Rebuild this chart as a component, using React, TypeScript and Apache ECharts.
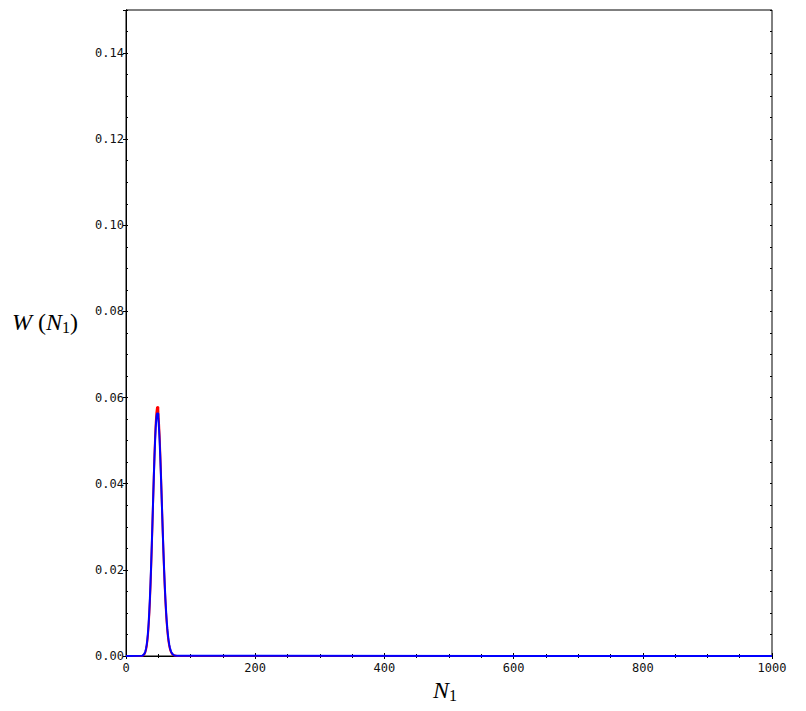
import React, { useEffect, useRef } from 'react';
import * as echarts from 'echarts';

const X_MIN = 0;
const X_MAX = 1000;
const X_INTERVAL = 200;
const Y_MIN = 0;
const Y_MAX = 0.15;
const Y_INTERVAL = 0.02;
const Y_MINOR = 0.005;

const N1 = [
  25, 26, 27, 28, 29, 30, 31, 32, 33, 34, 35, 36, 37, 38, 39, 40, 41, 42, 43, 44,
  45, 46, 47, 48, 49, 50, 51, 52, 53, 54, 55, 56, 57, 58, 59, 60, 61, 62, 63, 64,
  65, 66, 67, 68, 69, 70, 71, 72, 73, 74, 75, 76, 77, 78, 79, 80,
];

// red curve
const W_RED = [
  0.00002, 0.00005, 0.0001, 0.00019, 0.00033, 0.00056, 0.00092, 0.00146, 0.00226, 0.00339,
  0.00492, 0.00694, 0.00951, 0.01269, 0.01647, 0.02083, 0.02567, 0.03085, 0.03617, 0.0414,
  0.04629, 0.05058, 0.05404, 0.05647, 0.05774, 0.0578, 0.05667, 0.05443, 0.05124, 0.0473,
  0.04282, 0.03803, 0.03315, 0.02836, 0.02384, 0.01968, 0.01596, 0.01272, 0.00997, 0.00768,
  0.00582, 0.00434, 0.00318, 0.0023, 0.00163, 0.00114, 0.00079, 0.00054, 0.00036, 0.00024,
  0.00016, 0.0001, 0.00006, 0.00004, 0.00002, 0.00001,
];

// blue curve
const W_BLUE = [
  0.00004, 0.00008, 0.00014, 0.00025, 0.00042, 0.00068, 0.00109, 0.00171, 0.00259, 0.00381,
  0.00544, 0.00755, 0.0102, 0.01342, 0.0172, 0.0215, 0.02622, 0.03122, 0.0363, 0.04125,
  0.04583, 0.04981, 0.05299, 0.0552, 0.05633, 0.05633, 0.05523, 0.0531, 0.0501, 0.04639,
  0.04217, 0.03765, 0.03303, 0.02847, 0.02413, 0.02011, 0.01648, 0.01329, 0.01055, 0.00824,
  0.00634, 0.0048, 0.00358, 0.00263, 0.00191, 0.00136, 0.00096, 0.00067, 0.00046, 0.00031,
  0.00021, 0.00014, 0.00009, 0.00006, 0.00004, 0.00002,
];

const LABEL_FONT = '"DejaVu Sans Mono", monospace';
const TITLE_FONT = '"Liberation Serif", "DejaVu Serif", serif';

export default function App() {
  const ref = useRef<HTMLDivElement>(null);

  useEffect(() => {
    if (!ref.current) return;
    const chart = echarts.init(ref.current, null, { renderer: 'svg' });

    const toData = (vals: number[]) => [
      [X_MIN, 0],
      ...N1.map((n, i) => [n, vals[i]]),
      [X_MAX, 0],
    ];

    const gridBox = { left: 126, right: 34, top: 10, bottom: 55 };
    const line = { show: true, lineStyle: { color: '#000', width: 1 } };

    const yLabelFmt = (v: number) => {
      const k = v / Y_INTERVAL;
      return Math.abs(k - Math.round(k)) < 1e-6 && v <= 0.14 + 1e-9 ? v.toFixed(2) : '';
    };
    const xLabelFmt = (v: number) => String(Math.round(v));

    const titleRich = {
      i: { fontStyle: 'italic', fontFamily: TITLE_FONT, fontSize: 24, fill: '#000' },
      r: { fontFamily: TITLE_FONT, fontSize: 24, fill: '#000' },
      s: { fontFamily: TITLE_FONT, fontSize: 16, fill: '#000', padding: [11, 0, 0, 0] },
    };

    const option: any = {
      animation: false,
      backgroundColor: '#fff',
      grid: [
        { ...gridBox, show: true, borderColor: '#000', borderWidth: 1, backgroundColor: 'transparent' },
        { ...gridBox, show: false },
      ],
      xAxis: [
        {
          gridIndex: 0, type: 'value', position: 'bottom', min: X_MIN, max: X_MAX, interval: X_INTERVAL,
          axisLine: line,
          axisTick: { show: true, inside: true, length: 3, lineStyle: { color: '#000' } },
          minorTick: { show: true, splitNumber: 4, length: 2, lineStyle: { color: '#000' } },
          axisLabel: { color: '#111', fontFamily: LABEL_FONT, fontSize: 12, margin: 6, formatter: xLabelFmt },
          splitLine: { show: false },
        },
        {
          gridIndex: 0, type: 'value', position: 'top', min: X_MIN, max: X_MAX, interval: X_INTERVAL,
          axisLine: line,
          axisTick: { show: true, inside: true, length: 3, lineStyle: { color: '#000' } },
          minorTick: { show: true, splitNumber: 4, length: 2, lineStyle: { color: '#000' } },
          axisLabel: { show: false },
          splitLine: { show: false },
        },
        {
          gridIndex: 1, type: 'value', min: X_MIN, max: X_MAX, show: false,
        },
      ],
      yAxis: [
        {
          gridIndex: 0, type: 'value', position: 'left', min: Y_MIN, max: Y_MAX, interval: Y_INTERVAL,
          axisLine: line,
          axisTick: { show: true, inside: false, length: 3, lineStyle: { color: '#000' } },
          axisLabel: {
            color: '#111', fontFamily: LABEL_FONT, fontSize: 12, margin: 2,
            showMaxLabel: false, formatter: yLabelFmt,
          },
          splitLine: { show: false },
        },
        {
          gridIndex: 0, type: 'value', position: 'right', min: Y_MIN, max: Y_MAX, interval: Y_INTERVAL,
          axisLine: line,
          axisTick: { show: true, inside: true, length: 3, lineStyle: { color: '#000' } },
          axisLabel: { show: false },
          splitLine: { show: false },
        },
        {
          gridIndex: 1, type: 'value', position: 'left', min: Y_MIN, max: Y_MAX, interval: Y_MINOR,
          axisLine: { show: false },
          axisTick: { show: true, inside: true, length: 2, lineStyle: { color: '#000' } },
          axisLabel: { show: false },
          splitLine: { show: false },
        },
        {
          gridIndex: 1, type: 'value', position: 'right', min: Y_MIN, max: Y_MAX, interval: Y_MINOR,
          axisLine: { show: false },
          axisTick: { show: true, inside: true, length: 2, lineStyle: { color: '#000' } },
          axisLabel: { show: false },
          splitLine: { show: false },
        },
      ],
      series: [
        {
          type: 'line', xAxisIndex: 0, yAxisIndex: 0, step: 'start', showSymbol: false,
          data: toData(W_RED), lineStyle: { color: '#ff0000', width: 2 }, z: 3,
        },
        {
          type: 'line', xAxisIndex: 0, yAxisIndex: 0, step: 'start', showSymbol: false,
          data: toData(W_BLUE), lineStyle: { color: '#0000ff', width: 2 }, z: 4,
        },
      ],
      graphic: [
        {
          type: 'text', left: 12, top: 310,
          style: {
            text: '{i|W}{r| (}{i|N}{s|1}{r|)}',
            fill: '#000',
            font: `24px ${TITLE_FONT}`,
            rich: titleRich,
          },
        },
        {
          type: 'text', left: 433, top: 678,
          style: {
            text: '{i|N}{s|1}',
            fill: '#000',
            font: `24px ${TITLE_FONT}`,
            rich: titleRich,
          },
        },
      ],
    };

    chart.setOption(option);
    return () => chart.dispose();
  }, []);

  return (
    <div
      ref={ref}
      style={{ position: 'absolute', left: 0, top: 0, width: 806, height: 711, background: '#fff' }}
    />
  );
}
